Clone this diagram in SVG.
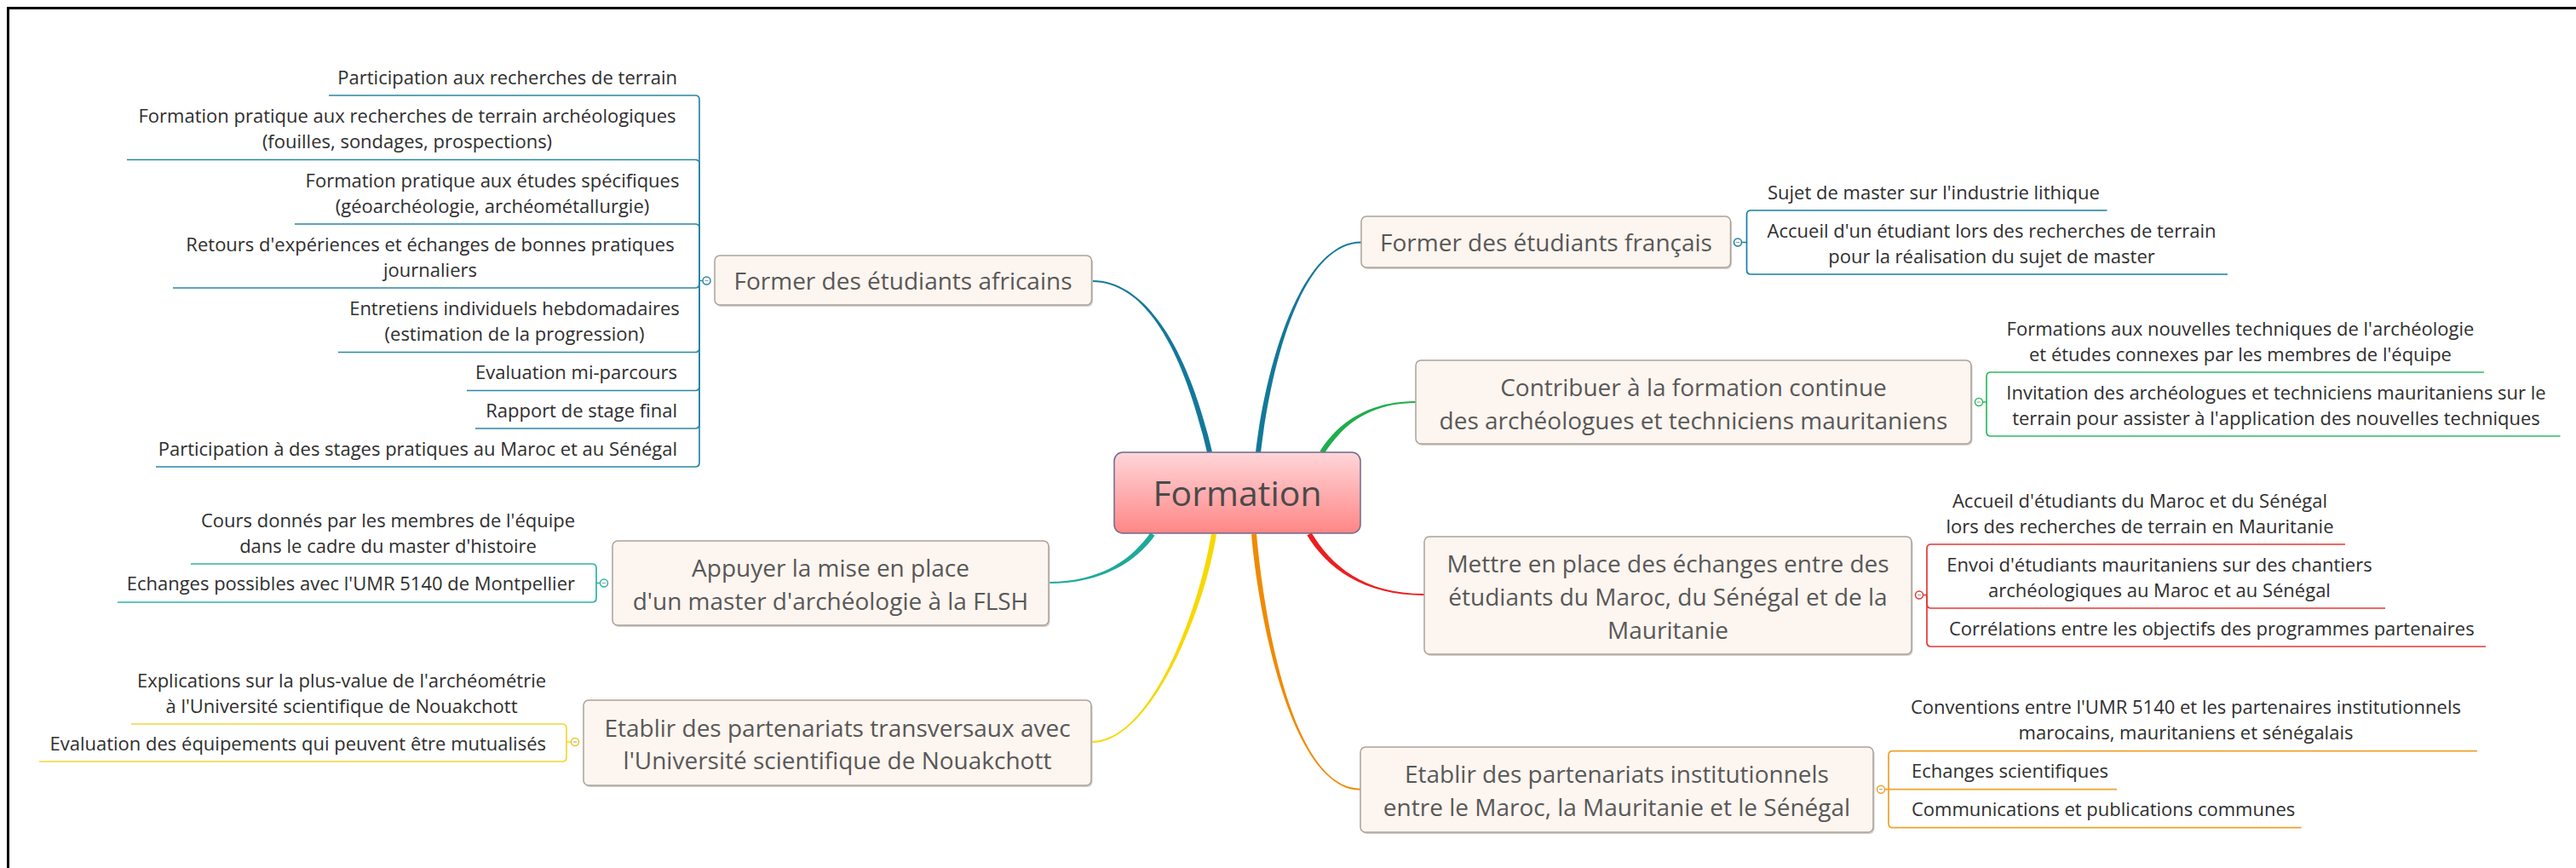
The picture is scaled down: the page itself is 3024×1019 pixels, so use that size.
<svg xmlns="http://www.w3.org/2000/svg" width="3024" height="1019" viewBox="0 0 3024 1019">
<defs>
<linearGradient id="gc" x1="0" y1="0" x2="0" y2="1">
<stop offset="0" stop-color="#ffd6d9"/>
<stop offset="1" stop-color="#ff8686"/>
</linearGradient>
<style>
.sub{font-family:"Open Sans","Noto Sans",sans-serif;font-size:22px;fill:#2e2e2e}
.mid{text-anchor:middle}
.end{text-anchor:end}
.main{font-family:"Open Sans","Noto Sans",sans-serif;font-size:28px;fill:#585858;text-anchor:middle}
.box{fill:#fdf5ef;stroke:#a9a29c;stroke-width:1.5}
.shadow{fill:#d6cfc8}
.br{fill:none;stroke-width:1.7}
.knob{fill:#fff;stroke-width:1.5}
</style>
</defs>
<rect width="3024" height="1019" fill="#fff"/>
<path d="M9.5,1019 V9.5 H3024" fill="none" stroke="#000" stroke-width="3"/>

<g id="connectors">
<path d="M1422.9,530.3 C1394.9,409.3 1345,329 1282,329 L1282,331 C1345,331 1389.1,410.7 1417.1,531.7 Z" fill="#13789a"/>
<path d="M1480,531.3 C1493,420.3 1530,285.5 1598,285.5 L1598,283.5 C1530,283.5 1487,419.7 1474,530.7 Z" fill="#13789a"/>
<path d="M1554.5,532.6 C1577.5,496.6 1610,473 1662,473 L1662,471 C1610,471 1572.5,493.4 1549.5,529.4 Z" fill="#1fae4c"/>
<path d="M1534.4,628.6 C1557.4,666.6 1600,699 1672,699 L1672,697 C1600,697 1562.6,663.4 1539.6,625.4 Z" fill="#ec1f1f"/>
<path d="M1469,627.3 C1479,740.3 1520,927.7 1597,927.7 L1597,925.7 C1520,925.7 1485,739.7 1475,626.7 Z" fill="#f08a00"/>
<path d="M1422,626.5 C1407,719.5 1350,870 1282,870 L1282,872 C1350,872 1413,720.5 1428,627.5 Z" fill="#f7d800"/>
<path d="M1350.5,625.3 C1327.5,658.3 1290,683 1232,683 L1232,685 C1290,685 1332.5,661.7 1355.5,628.7 Z" fill="#1ea99b"/>

<g class="br" stroke="#2a86a4">
<path d="M824.5,329.5 H821 V117 Q821,112 816,112 H386"/>
<path d="M821,329.5 V192.5 Q821,187.5 816,187.5 H149"/>
<path d="M821,329.5 V268 Q821,263 816,263 H346"/>
<path d="M821,329.5 V333 Q821,338 816,338 H203"/>
<path d="M821,329.5 V408.5 Q821,413.5 816,413.5 H397"/>
<path d="M821,329.5 V453.5 Q821,458.5 816,458.5 H548"/>
<path d="M821,329.5 V498 Q821,503 816,503 H558"/>
<path d="M821,329.5 V543 Q821,548 816,548 H183"/>
</g>
<g class="br" stroke="#2fb3a5">
<path d="M704.5,684.5 H700 V667 Q700,662 695,662 H224"/>
<path d="M700,684.5 V702 Q700,707 695,707 H138"/>
</g>
<g class="br" stroke="#f3d53a">
<path d="M670.5,871 H665 V855 Q665,850 660,850 H154"/>
<path d="M665,871 V889 Q665,894 660,894 H46"/>
</g>
<g class="br" stroke="#1a7fa0">
<path d="M2044.5,284.5 H2050.5 V252 Q2050.5,247 2055.5,247 H2473.5"/>
<path d="M2050.5,284.5 V317 Q2050.5,322 2055.5,322 H2615"/>
</g>
<g class="br" stroke="#2dbb62">
<path d="M2327.5,472 H2332 V442 Q2332,437 2337,437 H2916"/>
<path d="M2332,472 V507 Q2332,512 2337,512 H3005.5"/>
</g>
<g class="br" stroke="#e53935">
<path d="M2257.5,698.5 H2262 V644 Q2262,639 2267,639 H2753"/>
<path d="M2262,698.5 V709 Q2262,714 2267,714 H2800"/>
<path d="M2262,698.5 V754 Q2262,759 2267,759 H2918"/>
</g>
<g class="br" stroke="#eea22a">
<path d="M2212.5,926.7 H2217 V886.7 Q2217,881.7 2222,881.7 H2908"/>
<path d="M2217,926.7 H2485"/>
<path d="M2217,926.7 V966.7 Q2217,971.7 2222,971.7 H2701.5"/>
</g>

<g class="knob">
<circle cx="829.5" cy="329.5" r="4.5" stroke="#2a86a4"/>
<circle cx="709" cy="684.5" r="4.5" stroke="#2fb3a5"/>
<circle cx="675" cy="871" r="4.5" stroke="#e8c820"/>
<circle cx="2040" cy="284.5" r="4.5" stroke="#1a7fa0"/>
<circle cx="2323" cy="472" r="4.5" stroke="#2dbb62"/>
<circle cx="2253" cy="698.5" r="4.5" stroke="#e53935"/>
<circle cx="2208" cy="926.7" r="4.5" stroke="#eea22a"/>
</g>
<g stroke="#9a9a9a" stroke-width="1">
<path d="M827.5,329.5 h4 M707,684.5 h4 M673,871 h4 M2038,284.5 h4 M2321,472 h4 M2251,698.5 h4 M2206,926.7 h4"/>
</g>
</g>

<g id="n-central">
<rect x="1308" y="531" width="289" height="95" rx="10" fill="url(#gc)" stroke="#6f6a8a" stroke-width="1.5"/>
<text x="1452.5" y="594" font-family="Open Sans, Noto Sans, sans-serif" font-size="41" fill="#4a4a4a" text-anchor="middle">Formation</text>
</g>

<g id="n-africains">
<rect class="shadow" x="840.5" y="302" width="442.5" height="58" rx="6"/>
<rect class="box" x="839" y="300" width="442.5" height="58" rx="6"/>
<text class="main" x="1060" y="340">Former des étudiants africains</text>
</g>
<g id="n-flsh">
<rect class="shadow" x="720.5" y="637" width="512" height="99" rx="6"/>
<rect class="box" x="719" y="635" width="512" height="99" rx="6"/>
<text class="main" x="975" y="677">Appuyer la mise en place</text>
<text class="main" x="975" y="716">d'un master d'archéologie à la FLSH</text>
</g>
<g id="n-nouakchott">
<rect class="shadow" x="686.5" y="824" width="596" height="100" rx="6"/>
<rect class="box" x="685" y="822" width="596" height="100" rx="6"/>
<text class="main" x="983" y="865">Etablir des partenariats transversaux avec</text>
<text class="main" x="983" y="903">l'Université scientifique de Nouakchott</text>
</g>
<g id="n-francais">
<rect class="shadow" x="1599.5" y="256" width="433.5" height="60" rx="6"/>
<rect class="box" x="1598" y="254" width="433.5" height="60" rx="6"/>
<text class="main" x="1815" y="295">Former des étudiants français</text>
</g>
<g id="n-contribuer">
<rect class="shadow" x="1663.5" y="425" width="652" height="98" rx="6"/>
<rect class="box" x="1662" y="423" width="652" height="98" rx="6"/>
<text class="main" x="1988" y="465">Contribuer à la formation continue</text>
<text class="main" x="1988" y="504">des archéologues et techniciens mauritaniens</text>
</g>
<g id="n-mettre">
<rect class="shadow" x="1673.5" y="632" width="572" height="138" rx="6"/>
<rect class="box" x="1672" y="630" width="572" height="138" rx="6"/>
<text class="main" x="1958" y="672">Mettre en place des échanges entre des</text>
<text class="main" x="1958" y="711">étudiants du Maroc, du Sénégal et de la</text>
<text class="main" x="1958" y="750">Mauritanie</text>
</g>
<g id="n-institutionnels">
<rect class="shadow" x="1598.5" y="879" width="602" height="100" rx="6"/>
<rect class="box" x="1597" y="877" width="602" height="100" rx="6"/>
<text class="main" x="1898" y="919">Etablir des partenariats institutionnels</text>
<text class="main" x="1898" y="958">entre le Maroc, la Mauritanie et le Sénégal</text>
</g>

<g id="c-africains" class="sub">
<text class="end" x="795" y="98.5">Participation aux recherches de terrain</text>
<text class="mid" x="478" y="144">Formation pratique aux recherches de terrain archéologiques</text>
<text class="mid" x="478" y="174">(fouilles, sondages, prospections)</text>
<text class="mid" x="578" y="219.5">Formation pratique aux études spécifiques</text>
<text class="mid" x="578" y="249.5">(géoarchéologie, archéométallurgie)</text>
<text class="mid" x="505" y="294.5">Retours d'expériences et échanges de bonnes pratiques</text>
<text class="mid" x="505" y="324.5">journaliers</text>
<text class="mid" x="604" y="370">Entretiens individuels hebdomadaires</text>
<text class="mid" x="604" y="400">(estimation de la progression)</text>
<text class="end" x="795" y="445">Evaluation mi-parcours</text>
<text class="end" x="795" y="489.5">Rapport de stage final</text>
<text class="end" x="795" y="534.5">Participation à des stages pratiques au Maroc et au Sénégal</text>
</g>
<g id="c-flsh" class="sub">
<text class="mid" x="455.5" y="618.5">Cours donnés par les membres de l'équipe</text>
<text class="mid" x="455.5" y="648.5">dans le cadre du master d'histoire</text>
<text class="end" x="675" y="693">Echanges possibles avec l'UMR 5140 de Montpellier</text>
</g>
<g id="c-nouakchott" class="sub">
<text class="mid" x="401" y="806.5">Explications sur la plus-value de l'archéométrie</text>
<text class="mid" x="401" y="836.5">à l'Université scientifique de Nouakchott</text>
<text class="end" x="641" y="880.5">Evaluation des équipements qui peuvent être mutualisés</text>
</g>
<g id="c-francais" class="sub">
<text x="2075" y="233.5">Sujet de master sur l'industrie lithique</text>
<text class="mid" x="2338" y="278.5">Accueil d'un étudiant lors des recherches de terrain</text>
<text class="mid" x="2338" y="308.5">pour la réalisation du sujet de master</text>
</g>
<g id="c-contribuer" class="sub">
<text class="mid" x="2630" y="393.5">Formations aux nouvelles techniques de l'archéologie</text>
<text class="mid" x="2630" y="423.5">et études connexes par les membres de l'équipe</text>
<text class="mid" x="2672" y="468.5">Invitation des archéologues et techniciens mauritaniens sur le</text>
<text class="mid" x="2672" y="498.5">terrain pour assister à l'application des nouvelles techniques</text>
</g>
<g id="c-mettre" class="sub">
<text class="mid" x="2512" y="595.5">Accueil d'étudiants du Maroc et du Sénégal</text>
<text class="mid" x="2512" y="625.5">lors des recherches de terrain en Mauritanie</text>
<text class="mid" x="2535" y="670.5">Envoi d'étudiants mauritaniens sur des chantiers</text>
<text class="mid" x="2535" y="700.5">archéologiques au Maroc et au Sénégal</text>
<text x="2288" y="745.5">Corrélations entre les objectifs des programmes partenaires</text>
</g>
<g id="c-institutionnels" class="sub">
<text class="mid" x="2566" y="838">Conventions entre l'UMR 5140 et les partenaires institutionnels</text>
<text class="mid" x="2566" y="868">marocains, mauritaniens et sénégalais</text>
<text x="2244" y="913">Echanges scientifiques</text>
<text x="2244" y="958">Communications et publications communes</text>
</g>
</svg>
